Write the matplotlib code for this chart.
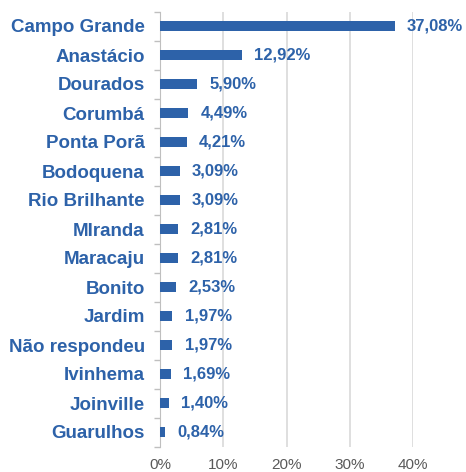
import matplotlib
matplotlib.use("Agg")
import matplotlib.pyplot as plt
from matplotlib.ticker import FuncFormatter, FixedLocator
import numpy as np

categories = ["Campo Grande", "Anastácio", "Dourados", "Corumbá", "Ponta Porã",
              "Bodoquena", "Rio Brilhante", "MIranda", "Maracaju", "Bonito",
              "Jardim", "Não respondeu", "Ivinhema", "Joinville", "Guarulhos"]
values = [37.08, 12.92, 5.90, 4.49, 4.21, 3.09, 3.09, 2.81, 2.81, 2.53,
          1.97, 1.97, 1.69, 1.40, 0.84]
xticks = [0, 10, 20, 30, 40]

blue = "#2D62A9"
plt.rcParams['font.family'] = ['Liberation Sans', 'DejaVu Sans']

fig = plt.figure(figsize=(4.66, 4.72), dpi=100)
ax = fig.add_axes([160/466, 1-446.5/472, 253/466, 435/472])

y = np.arange(len(categories))
ax.barh(y, values, height=0.33, color=blue, zorder=3)
ax.set_ylim(len(categories) - 0.5, -0.5)
ax.set_xlim(0, 40)

for yi, v in zip(y, values):
    ax.annotate(f"{v:.2f}%".replace(".", ","), xy=(v, yi), xytext=(9, 0),
                textcoords="offset points", va="center", ha="left",
                color=blue, fontsize=12, fontweight="bold", zorder=4)

ax.set_yticks(y)
ax.set_yticklabels(categories, fontsize=13.5, fontweight="bold", color=blue)
ax.yaxis.set_minor_locator(FixedLocator(np.arange(-0.5, len(categories), 1)))
ax.tick_params(axis="y", which="major", length=0, pad=11)
ax.tick_params(axis="y", which="minor", length=4, color="#BFBFBF", width=1)

ax.set_xticks(xticks)
ax.xaxis.set_major_formatter(FuncFormatter(lambda x, p: f"{int(x)}%"))
ax.tick_params(axis="x", length=0, labelsize=11, colors="#595959", pad=8)

ax.grid(axis="x", color="#D9D9D9", linewidth=1.2, zorder=0)
for s in ["top", "right", "bottom"]:
    ax.spines[s].set_visible(False)
ax.spines["left"].set_color("#BFBFBF")

fig.savefig("out.png", dpi=100)
